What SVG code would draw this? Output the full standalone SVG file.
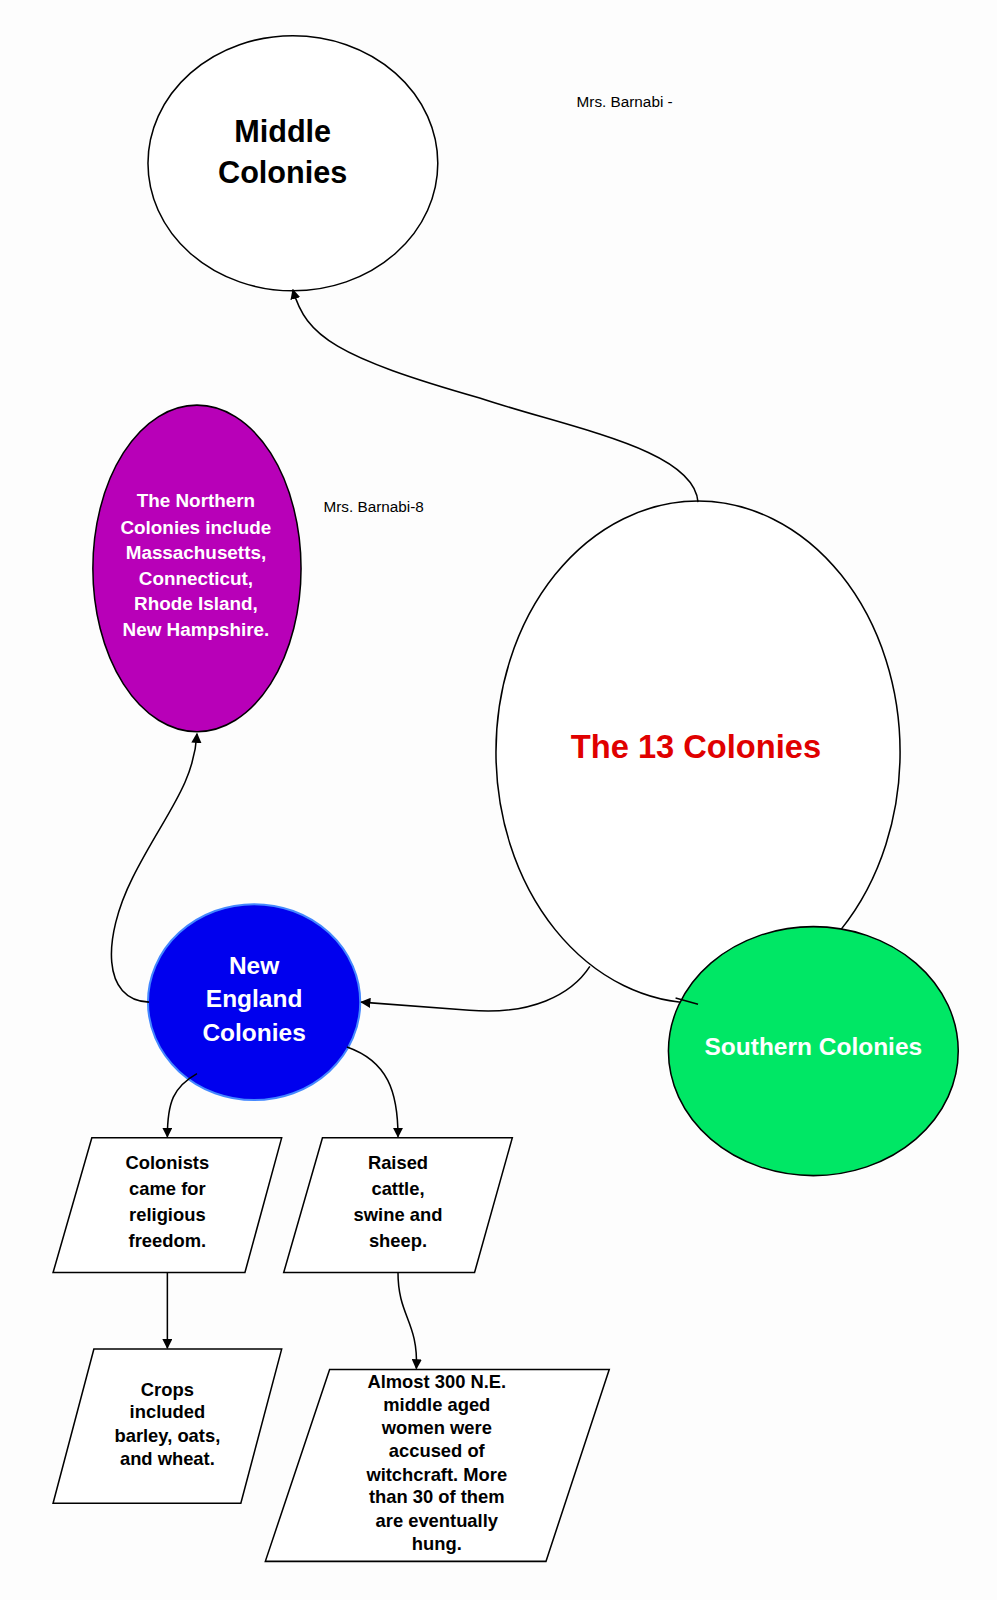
<svg xmlns="http://www.w3.org/2000/svg" width="997" height="1600" viewBox="0 0 997 1600">
<defs>
<marker id="ah" markerWidth="10" markerHeight="10" refX="9" refY="5" orient="auto" markerUnits="userSpaceOnUse"><path d="M0,0 L10,5 L0,10 z" fill="#000"/></marker>
<style>
.n{stroke:#000;stroke-width:1.5}
.c{fill:none;stroke:#000;stroke-width:1.5;marker-end:url(#ah)}
text{font-family:"Liberation Sans",Arial,sans-serif;text-anchor:middle;font-weight:bold}
.w{fill:#fff}
.s{font-size:18px;fill:#000}
.m{font-weight:normal;font-size:15px;text-anchor:start}
</style>
</defs>
<rect width="997" height="1600" fill="#fdfdfd"/>
<g transform="scale(1.0205)">
<g id="middle"><ellipse class="n" cx="287" cy="160" rx="142" ry="125" fill="#fff"/><text x="277" y="139" font-size="30">Middle</text><text x="277" y="179" font-size="30">Colonies</text></g>
<g id="note1"><text class="m" x="565" y="105">Mrs. Barnabi -</text></g>
<g id="northern"><ellipse class="n" cx="193" cy="557" rx="102" ry="160" fill="#b800b8"/>
<text class="w" font-size="18.5"><tspan x="192" y="497">The Northern</tspan><tspan x="192" y="523">Colonies include</tspan><tspan x="192" y="548">Massachusetts,</tspan><tspan x="192" y="573">Connecticut,</tspan><tspan x="192" y="598">Rhode Island,</tspan><tspan x="192" y="623">New Hampshire.</tspan></text></g>
<g id="note2"><text class="m" x="317" y="502">Mrs. Barnabi-8</text></g>
<g id="thirteen"><ellipse class="n" cx="684" cy="737" rx="198" ry="246" fill="#fff"/><text x="682" y="743" font-size="32" fill="#e00000">The 13 Colonies</text></g>
<g id="southern"><ellipse class="n" cx="797" cy="1030" rx="142" ry="122" fill="#00e765"/><text class="w" x="797" y="1034" font-size="24">Southern Colonies</text></g>
<g id="newengland"><ellipse cx="249" cy="982" rx="104" ry="96" fill="#0000ee" stroke="#4488ff" stroke-width="2"/><text class="w" font-size="24"><tspan x="249" y="954">New</tspan><tspan x="249" y="987">England</tspan><tspan x="249" y="1020">Colonies</tspan></text></g>
<g id="box1"><path class="n" d="M90,1115 L276,1115 L240,1247 L52,1247 Z" fill="#fff"/><text class="s"><tspan x="164" y="1146">Colonists</tspan><tspan x="164" y="1171">came for</tspan><tspan x="164" y="1196">religious</tspan><tspan x="164" y="1222">freedom.</tspan></text></g>
<g id="box2"><path class="n" d="M316,1115 L502,1115 L465,1247 L278,1247 Z" fill="#fff"/><text class="s"><tspan x="390" y="1146">Raised</tspan><tspan x="390" y="1171">cattle,</tspan><tspan x="390" y="1196">swine and</tspan><tspan x="390" y="1222">sheep.</tspan></text></g>
<g id="box3"><path class="n" d="M92,1322 L276,1322 L236,1473 L52,1473 Z" fill="#fff"/><text class="s"><tspan x="164" y="1368">Crops</tspan><tspan x="164" y="1390">included</tspan><tspan x="164" y="1413">barley, oats,</tspan><tspan x="164" y="1436">and wheat.</tspan></text></g>
<g id="box4"><path class="n" d="M323,1342 L597,1342 L535,1530 L260,1530 Z" fill="#fff"/><text class="s"><tspan x="428" y="1360">Almost 300 N.E.</tspan><tspan x="428" y="1383">middle aged</tspan><tspan x="428" y="1405">women were</tspan><tspan x="428" y="1428">accused of</tspan><tspan x="428" y="1451">witchcraft.  More</tspan><tspan x="428" y="1473">than 30 of them</tspan><tspan x="428" y="1496">are eventually</tspan><tspan x="428" y="1519">hung.</tspan></text></g>
<g id="connectors">
<path class="c" d="M684,492 C680,440 560,420 470,390 C330,350 300,330 287,284"/>
<path class="c" d="M578,947 C560,975 520,995 460,990 L354,982"/>
<path class="c" d="M146,982 C100,980 100,920 130,860 C160,800 190,770 193,719"/>
<path fill="none" stroke="#000" stroke-width="1.5" d="M662,978 L684,984"/>
<path class="c" d="M193,1052 C170,1065 164,1080 164,1114"/>
<path class="c" d="M340,1026 C380,1040 390,1070 390,1114"/>
<path class="c" d="M164,1247 L164,1321"/>
<path class="c" d="M390,1247 C390,1290 410,1295 408,1341"/>
</g>
</g>
</svg>
